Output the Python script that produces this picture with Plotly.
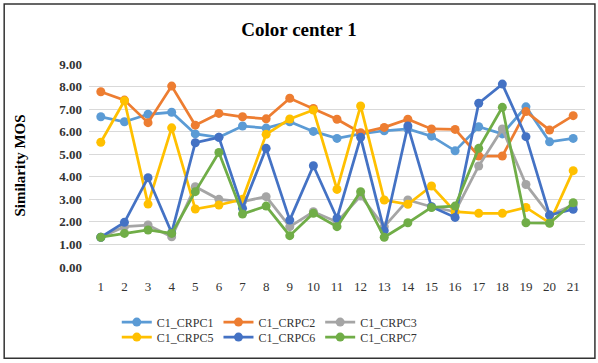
import plotly.graph_objects as go

categories = [str(i) for i in range(1, 22)]

crpc1 = [6.66, 6.44, 6.77, 6.86, 5.9, 5.75, 6.25, 6.16, 6.44, 6.01, 5.7, 5.9, 6.04, 6.12, 5.8, 5.15, 6.22, 5.9, 7.1, 5.55, 5.7]
crpc2 = [7.77, 7.4, 6.4, 8.02, 6.29, 6.81, 6.66, 6.57, 7.48, 7.03, 6.55, 5.95, 6.19, 6.55, 6.12, 6.1, 4.92, 4.92, 6.89, 6.07, 6.71]
crpc3 = [1.32, 1.79, 1.86, 1.34, 3.56, 3.0, 2.9, 3.12, 1.79, 2.45, 2.0, 3.15, 1.79, 2.97, 2.67, 2.45, 4.48, 6.12, 3.66, 2.3, 2.75]
crpc5 = [5.53, 7.37, 2.79, 6.17, 2.57, 2.75, 3.0, 5.88, 6.56, 6.96, 3.44, 7.14, 2.97, 2.78, 3.59, 2.45, 2.38, 2.38, 2.64, 1.96, 4.27]
crpc6 = [1.32, 1.98, 3.96, 1.52, 5.51, 5.75, 2.6, 5.26, 2.08, 4.49, 2.16, 5.75, 1.61, 6.25, 2.67, 2.2, 7.26, 8.11, 5.78, 2.3, 2.56]
crpc7 = [1.32, 1.49, 1.64, 1.49, 3.34, 5.08, 2.35, 2.7, 1.39, 2.38, 1.79, 3.34, 1.32, 1.96, 2.64, 2.7, 5.26, 7.08, 1.96, 1.94, 2.85]

series = [
    ("C1_CRPC1", crpc1, "#5B9BD5", "legend"),
    ("C1_CRPC2", crpc2, "#ED7D31", "legend"),
    ("C1_CRPC3", crpc3, "#A5A5A5", "legend"),
    ("C1_CRPC5", crpc5, "#FFC000", "legend2"),
    ("C1_CRPC6", crpc6, "#4472C4", "legend2"),
    ("C1_CRPC7", crpc7, "#70AD47", "legend2"),
]

y_ticks = [0, 1, 2, 3, 4, 5, 6, 7, 8, 9]
y_ticklabels = [f"{v:.2f}" for v in y_ticks]

fig = go.Figure()
for name, vals, color, leg in series:
    fig.add_trace(go.Scatter(
        x=categories, y=vals, name=name, mode="lines+markers",
        line=dict(color=color, width=2.75),
        marker=dict(color=color, size=9),
        legend=leg,
    ))

serif = "Liberation Serif, Times New Roman, serif"
legend_common = dict(orientation="h", xanchor="left", yanchor="top",
                     font=dict(family=serif, size=12, color="#333333"),
                     tracegroupgap=0, bgcolor="rgba(0,0,0,0)")

fig.update_layout(
    width=598, height=363,
    margin=dict(l=89, r=13, t=64, b=96, autoexpand=False),
    paper_bgcolor="white", plot_bgcolor="white",
    title=dict(text="<b>Color center 1</b>", x=0.5, xanchor="center", y=0.918, yanchor="middle",
               font=dict(family=serif, size=19, color="black")),
    font=dict(family=serif, color="#333333"),
    xaxis=dict(type="category", range=[-0.5, 20.5], showgrid=False, showline=False,
               zeroline=False, ticks="", automargin=False, ticklabelstandoff=10,
               tickfont=dict(family=serif, size=13, color="#333333")),
    yaxis=dict(range=[0, 9], tickvals=y_ticks, ticktext=[f"<b>{t}</b>" for t in y_ticklabels],
               showgrid=True, gridcolor="#D9D9D9", gridwidth=1, zeroline=False, showline=False,
               automargin=False, ticklabelstandoff=6,
               tickfont=dict(family=serif, size=13, color="#333333"),
               title=dict(text="<b>Similarity MOS</b>", font=dict(family=serif, size=15, color="black"), standoff=30)),
    legend=dict(x=0.056, y=-0.2, **legend_common),
    legend2=dict(x=0.056, y=-0.274, **legend_common),
    showlegend=True,
)

fig.add_shape(type="rect", xref="paper", yref="paper",
              x0=-0.171, x1=1.02, y0=-0.45, y1=1.295,
              line=dict(color="#333333", width=1.5), fillcolor="rgba(0,0,0,0)", layer="below")

fig.write_html("out.html", config={"displayModeBar": False},
               post_script="document.body.style.margin='0';document.body.style.padding='0';")
